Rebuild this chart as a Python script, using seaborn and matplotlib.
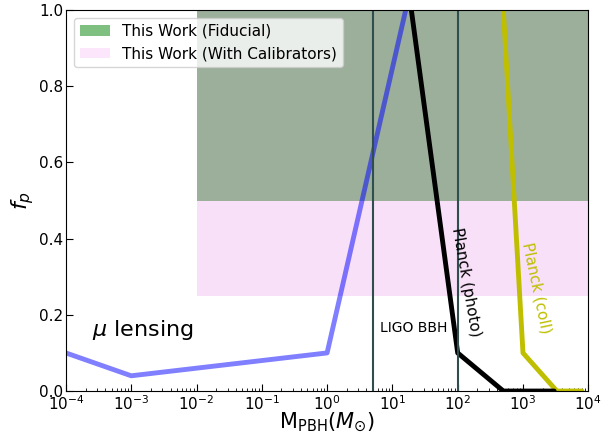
import numpy as np
import pandas as pd
import seaborn as sns
import matplotlib
matplotlib.use('Agg')
import matplotlib.pyplot as plt
from matplotlib.patches import Patch

# constraint curves
mu_mass = [1e-4, 1e-3, 1e0, 16]
mu_fp = [0.1, 0.04, 0.1, 1.0]

photo_mass = [19.5, 100, 500, 3000]
photo_fp = [1.0, 0.1, 0.0, 0.0]

coll_mass = [500, 1000, 3300, 8000]
coll_fp = [1.0, 0.1, 0.0, 0.0]

ligo_lines = [5, 100]

# this work regions: (mass lo, mass hi, fp lo, fp hi)
fid_box = [1e-2, 1e4, 0.5, 1.0]
cal_box = [1e-2, 1e4, 0.25, 0.5]

sns.set_style('ticks', rc={'text.color': 'black', 'axes.labelcolor': 'black',
                           'xtick.color': 'black', 'ytick.color': 'black',
                           'axes.edgecolor': 'black'})

fig = plt.figure(figsize=(6.16, 4.34), dpi=100)
ax = fig.add_axes([0.107, 0.099, 0.848, 0.878])

ax.fill_between([fid_box[0], fid_box[1]], fid_box[2], fid_box[3], color='#9caf9b', lw=0)
ax.fill_between([cal_box[0], cal_box[1]], cal_box[2], cal_box[3], color='#f8e0f8', lw=0)

mu = pd.DataFrame({'m': mu_mass, 'f': mu_fp})
photo = pd.DataFrame({'m': photo_mass, 'f': photo_fp})
coll = pd.DataFrame({'m': coll_mass, 'f': coll_fp})

sns.lineplot(data=coll, x='m', y='f', sort=False, color='y', lw=3.5, ax=ax)
sns.lineplot(data=photo, x='m', y='f', sort=False, color='k', lw=3.5, ax=ax)
sns.lineplot(data=mu, x='m', y='f', sort=False, color='blue', alpha=0.5, lw=3.5, ax=ax)

for m in ligo_lines:
    ax.axvline(m, color='darkslategray', lw=1.5)

ax.text(2.5e-4, 0.16, r'$\mu$ lensing', fontsize=16, va='center')
ax.text(6.5, 0.165, 'LIGO BBH', fontsize=10, va='center')
ax.text(135, 0.285, 'Planck (photo)', fontsize=11, rotation=-80, ha='center', va='center')
ax.text(1600, 0.27, 'Planck (coll)', fontsize=11, rotation=-78, ha='center', va='center', color='y')

ax.set_xscale('log')
ax.set_xlim(1e-4, 1e4)
ax.set_ylim(0, 1)
ax.set_xticks([10.0**k for k in range(-4, 5)])
ax.set_yticks(np.arange(0, 1.01, 0.2))
ax.tick_params(direction='in', which='both', labelsize=11, pad=2)
ax.tick_params(which='major', length=5)

ax.set_xlabel(r'M$_{\rm PBH}$($M_{\odot}$)', fontsize=15, labelpad=-1)
ax.set_ylabel(r'$f_p$', fontsize=16, labelpad=2)

handles = [Patch(color='green', alpha=0.5, lw=0), Patch(color='violet', alpha=0.2, lw=0)]
ax.legend(handles, ['This Work (Fiducial)', 'This Work (With Calibrators)'],
          loc='upper left', fontsize=11)

plt.savefig('out.png', dpi=100)
